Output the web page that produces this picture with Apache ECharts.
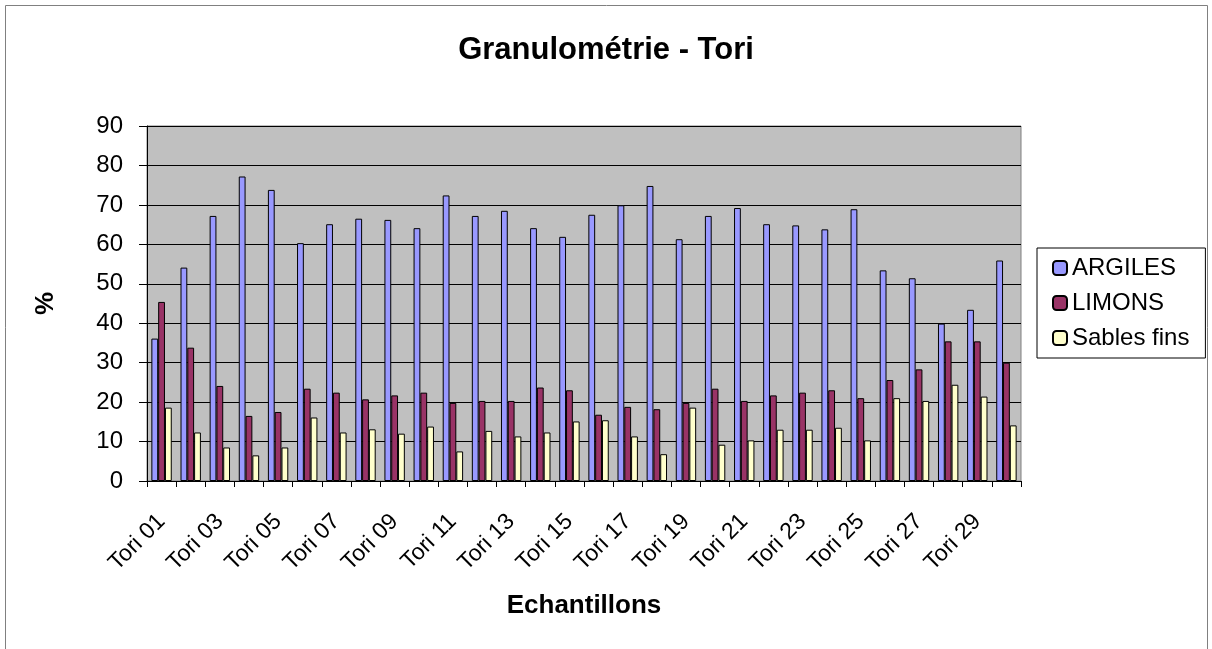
<!DOCTYPE html>
<html>
<head>
<meta charset="utf-8">
<script src="https://cdn.jsdelivr.net/npm/echarts@6/dist/echarts.min.js"></script>
<style>
  html, body { margin: 0; padding: 0; background: #fff; }
  #chart { width: 1212px; height: 649px; }
</style>
</head>
<body>
<div id="chart"></div>
<script>
// Echantillons
const categories = [
  'Tori 01', 'Tori 02', 'Tori 03', 'Tori 04', 'Tori 05', 'Tori 06', 'Tori 07', 'Tori 08', 'Tori 09', 'Tori 10',
  'Tori 11', 'Tori 12', 'Tori 13', 'Tori 14', 'Tori 15', 'Tori 16', 'Tori 17', 'Tori 18', 'Tori 19', 'Tori 20',
  'Tori 21', 'Tori 22', 'Tori 23', 'Tori 24', 'Tori 25', 'Tori 26', 'Tori 27', 'Tori 28', 'Tori 29', 'Tori 30'
]

const argiles = [
  36.1, 54.1, 67.2, 77.2, 73.8, 60.3, 65.1, 66.5, 66.2, 64.1,
  72.4, 67.2, 68.5, 64.1, 61.9, 67.5, 69.9, 74.8, 61.3, 67.2,
  69.2, 65.1, 64.8, 63.8, 68.9, 53.4, 51.4, 39.9, 43.4, 55.9
]
const limons = [
  45.4, 33.8, 24.1, 16.5, 17.5, 23.4, 22.4, 20.7, 21.7, 22.4,
  19.8, 20.3, 20.3, 23.7, 23.0, 16.8, 18.8, 18.2, 19.8, 23.4,
  20.3, 21.7, 22.4, 23.0, 21.0, 25.6, 28.3, 35.4, 35.4, 30.0
]
const sablesFins = [
  18.6, 12.3, 8.5, 6.5, 8.5, 16.1, 12.3, 13.1, 12.0, 13.8,
  7.5, 12.7, 11.3, 12.3, 15.1, 15.4, 11.3, 6.8, 18.6, 9.2,
  10.3, 13.0, 13.0, 13.5, 10.3, 21.0, 20.3, 24.4, 21.4, 14.1
]

const font = 'Liberation Sans, Arial, sans-serif'

const chart = echarts.init(document.getElementById('chart'))

const barStyle = (color) => ({
  color: color,
  borderColor: '#000',
  borderWidth: 1
})

chart.setOption({
  animation: false,
  textStyle: { fontFamily: font, color: '#000' },
  title: {
    text: 'Granulométrie - Tori',
    left: 'center',
    top: 30,
    textStyle: { fontFamily: font, fontSize: 31, fontWeight: 'bold', color: '#000' }
  },
  graphic: [
    {
      type: 'rect',
      shape: { x: 5.5, y: 5.5, width: 1202, height: 700 },
      style: { fill: 'none', stroke: '#808080', lineWidth: 1 },
      silent: true
    }
  ],
  legend: {
    orient: 'vertical',
    left: 1037,
    top: 248,
    padding: [8, 16, 8, 15],
    itemGap: 11,
    itemWidth: 14,
    itemHeight: 14,
    borderColor: '#000',
    borderWidth: 1,
    textStyle: { fontFamily: font, fontSize: 24, color: '#000' },
    data: ['ARGILES', 'LIMONS', 'Sables fins']
  },
  grid: {
    left: 147,
    right: 191,
    top: 126,
    bottom: 168,
    show: true,
    backgroundColor: '#C0C0C0',
    borderColor: '#808080',
    borderWidth: 1
  },
  xAxis: {
    type: 'category',
    data: categories,
    name: 'Echantillons',
    nameLocation: 'middle',
    nameGap: 112,
    nameTextStyle: { fontFamily: font, fontSize: 26, fontWeight: 'bold', color: '#000' },
    axisLine: { show: true, lineStyle: { color: '#000', width: 1 } },
    axisTick: { show: true, alignWithLabel: false, interval: 0, length: 6, lineStyle: { color: '#000' } },
    axisLabel: {
      interval: 1,
      rotate: 45,
      fontSize: 23,
      color: '#000',
      fontFamily: font,
      margin: 37
    }
  },
  yAxis: {
    type: 'value',
    min: 0,
    max: 90,
    interval: 10,
    name: '%',
    nameLocation: 'middle',
    nameGap: 88,
    nameRotate: 90,
    nameTextStyle: { fontFamily: font, fontSize: 26, fontWeight: 'bold', color: '#000' },
    axisLine: { show: true, lineStyle: { color: '#000', width: 1 } },
    axisTick: { show: true, length: 8, lineStyle: { color: '#000' } },
    axisLabel: { fontSize: 24, color: '#000', fontFamily: font, margin: 24 },
    splitLine: { show: true, lineStyle: { color: '#000', width: 1 } }
  },
  series: [
    {
      name: 'ARGILES',
      type: 'bar',
      data: argiles,
      barGap: '0%',
      barCategoryGap: '30%',
      itemStyle: barStyle('#9999FF')
    },
    {
      name: 'LIMONS',
      type: 'bar',
      data: limons,
      barGap: '0%',
      barCategoryGap: '30%',
      itemStyle: barStyle('#993366')
    },
    {
      name: 'Sables fins',
      type: 'bar',
      data: sablesFins,
      barGap: '0%',
      barCategoryGap: '30%',
      itemStyle: barStyle('#FFFFCC')
    }
  ]
})
</script>
</body>
</html>
